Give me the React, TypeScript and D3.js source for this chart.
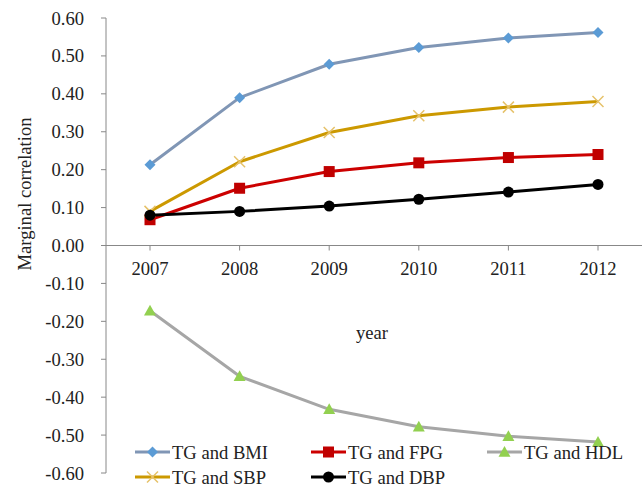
import React from "react";
import * as d3 from "d3";

const years = ["2007", "2008", "2009", "2010", "2011", "2012"];
const bmi = [0.213, 0.39, 0.478, 0.522, 0.547, 0.562];
const fpg = [0.068, 0.151, 0.195, 0.218, 0.232, 0.24];
const hdl = [-0.172, -0.345, -0.432, -0.478, -0.503, -0.518];
const sbp = [0.09, 0.221, 0.298, 0.342, 0.365, 0.38];
const dbp = [0.08, 0.09, 0.104, 0.122, 0.141, 0.161];
const yTicks = [0.6, 0.5, 0.4, 0.3, 0.2, 0.1, 0, -0.1, -0.2, -0.3, -0.4, -0.5, -0.6];

type S = { name: string; values: number[]; line: string; marker: string; shape: string };
const series: S[] = [
  { name: "TG and BMI", values: bmi, line: "#8096b5", marker: "#5b9bd5", shape: "diamond" },
  { name: "TG and FPG", values: fpg, line: "#cc0000", marker: "#c00000", shape: "square" },
  { name: "TG and HDL", values: hdl, line: "#a6a6a6", marker: "#92d050", shape: "triangle" },
  { name: "TG and SBP", values: sbp, line: "#cc9900", marker: "#e6c26a", shape: "x" },
  { name: "TG and DBP", values: dbp, line: "#000000", marker: "#000000", shape: "circle" },
];

const W = 642, H = 487;
const x0 = 106, x1 = 642;
const x = d3.scalePoint<string>().domain(years).range([150, 598]);
const y = d3.scaleLinear().domain([-0.6, 0.6]).range([473, 18]);
const font = "'Liberation Serif', 'Times New Roman', serif";
const fs = 18.6;
const fmt = (t: number) => d3.format(".2f")(t).replace("\u2212", "-");

function Marker({ cx, cy, s }: { cx: number; cy: number; s: S }) {
  if (s.shape === "diamond") {
    const r = 5.5;
    return <path d={`M${cx},${cy - r}L${cx + r},${cy}L${cx},${cy + r}L${cx - r},${cy}Z`} fill={s.marker} />;
  }
  if (s.shape === "square") return <rect x={cx - 5.5} y={cy - 5.5} width={11} height={11} fill={s.marker} />;
  if (s.shape === "triangle") {
    const r = 6;
    return <path d={`M${cx},${cy - r}L${cx + r},${cy + r * 0.8}L${cx - r},${cy + r * 0.8}Z`} fill={s.marker} />;
  }
  if (s.shape === "x") {
    const r = 5.5;
    return <path d={`M${cx - r},${cy - r}L${cx + r},${cy + r}M${cx + r},${cy - r}L${cx - r},${cy + r}`} stroke={s.marker} strokeWidth={1.5} />;
  }
  return <circle cx={cx} cy={cy} r={5.5} fill={s.marker} />;
}

export default function App() {
  const line = d3.line<number>().x((_, i) => x(years[i])!).y((d) => y(d));
  const legendPos = [
    { lx: 135, ly: 452 }, { lx: 311, ly: 452 }, { lx: 487, ly: 452 },
    { lx: 135, ly: 477 }, { lx: 311, ly: 477 },
  ];
  return (
    <svg width={W} height={H} style={{ position: "absolute", left: 0, top: 0, background: "#fff" }} fontFamily={font}>
      <rect width={W} height={H} fill="#fff" />
      <line x1={x0} x2={x0} y1={y(0.6)} y2={y(-0.6)} stroke="#888" strokeWidth={1} />
      {yTicks.map((t) => (
        <g key={t}>
          <line x1={x0 - 5} x2={x0} y1={y(t)} y2={y(t)} stroke="#888" />
          <text x={84} y={y(t)} dy="0.35em" textAnchor="end" fontSize={fs} fill="#222">{fmt(t)}</text>
        </g>
      ))}
      <line x1={x0} x2={x1} y1={y(0)} y2={y(0)} stroke="#888" strokeWidth={1} />
      {years.map((yr) => (
        <g key={yr}>
          <line x1={x(yr)} x2={x(yr)} y1={y(0)} y2={y(0) + 5} stroke="#888" />
          <text x={x(yr)} y={275} textAnchor="middle" fontSize={fs} fill="#222">{yr}</text>
        </g>
      ))}
      <text x={372} y={339} textAnchor="middle" fontSize={fs} fill="#222">year</text>
      <text transform={`translate(31,194) rotate(-90)`} textAnchor="middle" fontSize={fs} fill="#222">Marginal  correlation</text>
      {series.map((s) => (
        <g key={s.name}>
          <path d={line(s.values)!} fill="none" stroke={s.line} strokeWidth={3} strokeLinejoin="round" />
          {s.values.map((v, i) => <Marker key={i} cx={x(years[i])!} cy={y(v)} s={s} />)}
        </g>
      ))}
      {series.map((s, i) => {
        const { lx, ly } = legendPos[i];
        return (
          <g key={"l" + s.name}>
            <line x1={lx} x2={lx + 35} y1={ly} y2={ly} stroke={s.line} strokeWidth={3} />
            <Marker cx={lx + 17.5} cy={ly} s={s} />
            <text x={lx + 37} y={ly} dy="0.35em" fontSize={fs} fill="#222">{s.name}</text>
          </g>
        );
      })}
    </svg>
  );
}
